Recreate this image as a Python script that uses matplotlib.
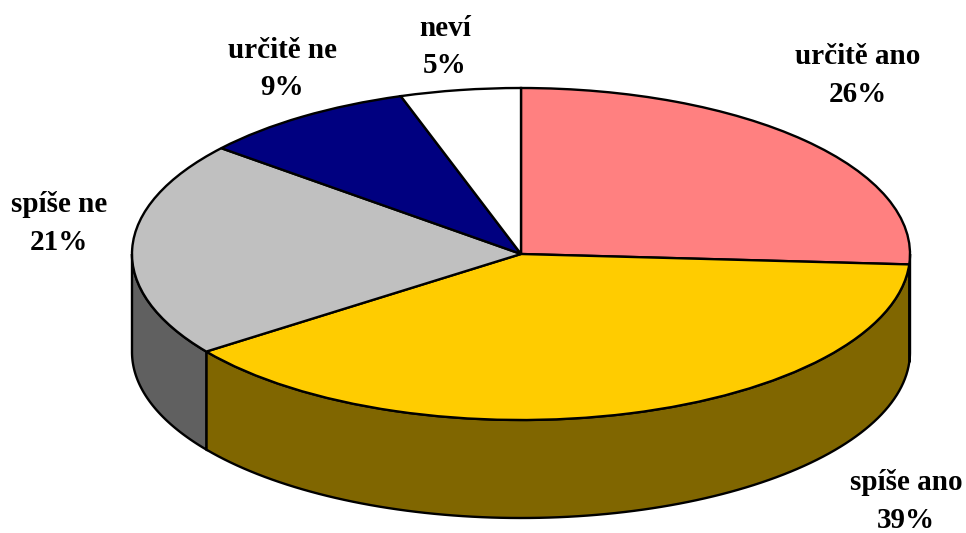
import numpy as np
import matplotlib
matplotlib.use('Agg')
import matplotlib.pyplot as plt

labels = ['určitě ano', 'spíše ano', 'spíše ne', 'určitě ne', 'neví']
values = [26, 39, 21, 9, 5]
top_colors = ['#FF8080', '#FFCC00', '#C0C0C0', '#000080', '#FFFFFF']
side_colors = ['#000000', '#806600', '#606060', '#000040', '#808080']

W, H = 966, 533
cx, cy = 521, 254   # pie centre in pixels
rx, ry = 389, 166
depth = 98 / ry

plt.rcParams['font.family'] = ['Liberation Serif', 'DejaVu Serif']

fig = plt.figure(figsize=(W / 100, H / 100), dpi=100, facecolor='white')
ax = fig.add_axes([0, 0, 1, 1])

ax.pie(values, colors=top_colors, startangle=90, counterclock=False,
       wedgeprops={'edgecolor': 'black', 'linewidth': 1.7, 'zorder': 3})
ax.set_aspect('auto')
ax.set_xlim(-cx / rx, (W - cx) / rx)
ax.set_ylim(-(H - cy) / ry, cy / ry)

# side wall, only the front half of the rim shows
edges = np.cumsum([0] + values) / sum(values) * 360
for i in range(len(values)):
    a = max(edges[i], 90)
    b = min(edges[i + 1], 270)
    if b <= a:
        continue
    t = np.radians(np.linspace(a, b, 100))
    x = np.sin(t)
    y = np.cos(t)
    ax.fill(np.r_[x, x[::-1]], np.r_[y, y[::-1] - depth], facecolor=side_colors[i],
            edgecolor='black', linewidth=1.7, zorder=2)

# x centre and baseline of the percent line of each label, in pixels
label_px = [(858, 102), (906, 528), (59, 250), (282, 95), (445, 73)]
for name, v, (px, py) in zip(labels, values, label_px):
    ax.text((px - cx) / rx, (cy - py) / ry, f'{name}\n{v}%', ha='center', va='baseline',
            fontsize=21, fontweight='bold', linespacing=1.5, zorder=5)

fig.savefig('out.png', dpi=100)
